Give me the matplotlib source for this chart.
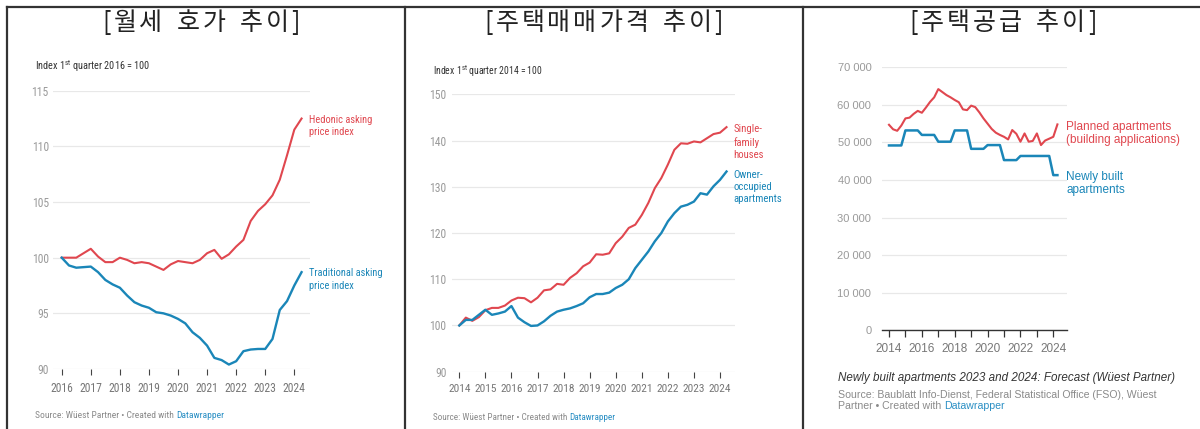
import numpy as np
import matplotlib
matplotlib.use('Agg')
import matplotlib.pyplot as plt
from matplotlib import font_manager
from matplotlib.ticker import FixedLocator

# pick a condensed face for the Datawrapper-style small text if one is installed
_fonts = font_manager.fontManager.ttflist
_names = {f.name for f in _fonts}
NARROW = None
NARROW_STRETCH = 'normal'
for cand in ['Liberation Sans Narrow', 'Roboto Condensed', 'Open Sans Condensed', 'Noto Sans Condensed']:
    if cand in _names:
        NARROW = cand
        break
if NARROW is None:
    for fam in ['Roboto', 'Noto Sans', 'Open Sans', 'DejaVu Sans', 'Inter']:
        if any(f.name == fam and f.stretch in ('condensed', 'semi-condensed', 'extra-condensed')
               for f in _fonts):
            NARROW = fam
            NARROW_STRETCH = 'condensed'
            break
if NARROW is None:
    NARROW = 'Liberation Sans'

plt.rcParams['font.family'] = [NARROW, 'Liberation Sans', 'DejaVu Sans']
plt.rcParams['font.stretch'] = NARROW_STRETCH
plt.rcParams['mathtext.fontset'] = 'custom'
plt.rcParams['mathtext.rm'] = NARROW

# ---- data ----
titles = ['[월세 호가 추이]', '[주택매매가격 추이]', '[주택공급 추이]']

# panel 1: asking rents, quarterly from 2016 Q1
rent_start = 2016
hedonic = [100.0, 100.0, 100.0, 100.4, 100.8, 100.1, 99.6, 99.6,
           100.0, 99.8, 99.5, 99.6, 99.5, 99.2, 98.9, 99.4,
           99.7, 99.6, 99.5, 99.8, 100.4, 100.7, 99.9, 100.3,
           101.0, 101.6, 103.3, 104.2, 104.8, 105.6, 107.0, 109.2,
           111.5, 112.5]
traditional = [100.0, 99.3, 99.1, 99.15, 99.2, 98.7, 98.0, 97.6,
               97.3, 96.6, 96.0, 95.7, 95.5, 95.1, 95.0, 94.8,
               94.5, 94.1, 93.3, 92.8, 92.1, 91.0, 90.8, 90.4,
               90.7, 91.6, 91.75, 91.8, 91.8, 92.7, 95.3, 96.1,
               97.5, 98.7]
rent_years = list(range(2016, 2025))
rent_yticks = [90, 95, 100, 105, 110, 115]

# panel 2: transaction prices, quarterly from 2014 Q1
price_start = 2014
single_family = [100.0, 101.7, 101.0, 101.8, 103.3, 103.8, 103.8, 104.3,
                 105.4, 106.0, 105.9, 105.0, 106.0, 107.6, 107.8, 109.0,
                 108.8, 110.3, 111.3, 112.8, 113.6, 115.4, 115.3, 115.6,
                 117.8, 119.2, 121.1, 121.8, 123.9, 126.5, 129.7, 131.9,
                 134.8, 138.0, 139.4, 139.3, 139.8, 139.6, 140.5, 141.4,
                 141.7, 142.9]
owner_occupied = [100.0, 101.2, 101.2, 102.3, 103.4, 102.3, 102.6, 103.0,
                  104.2, 101.7, 100.7, 99.9, 100.0, 100.9, 102.1, 103.0,
                  103.4, 103.7, 104.2, 104.8, 106.1, 106.8, 106.8, 107.1,
                  108.1, 108.8, 110.0, 112.4, 114.2, 116.0, 118.2, 120.0,
                  122.5, 124.3, 125.7, 126.1, 126.8, 128.6, 128.3, 130.1,
                  131.5, 133.3]
price_years = list(range(2014, 2025))
price_yticks = [90, 100, 110, 120, 130, 140, 150]

# panel 3: housing supply, quarterly from 2014 Q1
supply_start = 2014
planned = [54700, 53500, 53100, 54500, 56400, 56600, 57600, 58400,
           57900, 59300, 60800, 62000, 64200, 63400, 62600, 62000,
           61300, 60700, 58800, 58600, 59800, 59400, 58000, 56400,
           55000, 53600, 52600, 52000, 51500, 50800, 53300, 52300,
           50200, 52400, 50200, 50400, 52400, 49300, 50500, 51000,
           51500, 54800]
newly_built = [49200, 49200, 49200, 49200, 53200, 53200, 53200, 53200,
               52000, 52000, 52000, 52000, 50200, 50200, 50200, 50200,
               53200, 53200, 53200, 53200, 48300, 48300, 48300, 48300,
               49300, 49300, 49300, 49300, 45300, 45300, 45300, 45300,
               46400, 46400, 46400, 46400, 46400, 46400, 46400, 46400,
               41300, 41300]
supply_years = list(range(2014, 2025))
supply_label_years = [2014, 2016, 2018, 2020, 2022, 2024]
supply_yticks = [0, 10000, 20000, 30000, 40000, 50000, 60000, 70000]
supply_ylabels = ['0', '10 000', '20 000', '30 000', '40 000', '50 000', '60 000', '70 000']

RED = '#e0474f'
BLUE = '#1a86b8'
GRID = '#e8e8e8'
W, H = 1200, 429
# condensed face allows slightly bigger text for the same width
SZ = 1.12 if NARROW != 'Liberation Sans' else 1.0

fig = plt.figure(figsize=(12, 4.29), dpi=100)


def px_axes(x0, x1, ytop, ybot):
    return fig.add_axes([x0 / W, 1 - ybot / H, (x1 - x0) / W, (ybot - ytop) / H])


def quarters(start, n):
    return start + np.arange(n) / 4.0


def base_style(ax, yticks, ylab_size, ypad):
    for s in ax.spines.values():
        s.set_visible(False)
    ax.set_yticks(yticks)
    ax.yaxis.grid(True, color=GRID, lw=0.9)
    ax.set_axisbelow(True)
    ax.tick_params(axis='y', length=0, pad=ypad, labelsize=ylab_size, labelcolor='#9a9a9a')


def end_label(ax, x, y, text, color, dx, dy, size, ls=1.1, **kw):
    ax.annotate(text, xy=(x, y), xytext=(dx, dy), textcoords='offset pixels',
                ha='left', va='top', color=color, fontsize=size,
                linespacing=ls, annotation_clip=False, **kw)


def source_line(x, y, prefix, size=6, **kw):
    t = fig.text(x / W, 1 - y / H, prefix, color='#8a8a8a', fontsize=size, va='center', ha='left', **kw)
    fig.add_artist(plt.Annotation('Datawrapper', xy=(1, 0.5), xycoords=t, va='center', ha='left',
                                  color='#2a8fc4', fontsize=size, annotation_clip=False, **kw))


def spaced_title(cx, cy, s, size, gap):
    # place characters one by one so the title gets a bit of letter spacing
    r = fig.canvas.get_renderer()
    kw = dict(fontsize=size, ha='left', va='center', color='#222222',
              family=['Noto Sans CJK KR', 'DejaVu Sans'], weight='light', stretch='normal')
    parts, widths = [], []
    for ch in s:
        if ch == ' ':
            parts.append(None)
            widths.append(size * 0.45)
            continue
        t = fig.text(0, 1 - cy / H, ch, **kw)
        parts.append(t)
        widths.append(t.get_window_extent(r).width)
    total = sum(widths) + gap * (len(s) - 1)
    x = cx - total / 2
    for t, w in zip(parts, widths):
        if t is not None:
            t.set_x(x / W)
        x += w + gap


# ---- panel 1 ----
ax1 = px_axes(53, 310, 90.7, 369)
t1 = quarters(rent_start, len(hedonic))
ax1.plot(t1, hedonic, color=RED, lw=1.5, clip_on=False)
ax1.plot(t1, traditional, color=BLUE, lw=1.7, clip_on=False)
ax1.set_xlim(2015.70, 2024.54)
ax1.set_ylim(90, 115)
base_style(ax1, rent_yticks, 7.5 * SZ, 3)
ax1.set_xticks(rent_years)
ax1.tick_params(axis='x', length=4, width=0.8, color='#444444', pad=5,
                labelsize=7.5 * SZ, labelcolor='#777777')
end_label(ax1, t1[-1], hedonic[-1], 'Hedonic asking\nprice index', RED, 7, 4, 6.7 * SZ, ls=1.3)
end_label(ax1, t1[-1], traditional[-1], 'Traditional asking\nprice index', BLUE, 7, 4, 6.7 * SZ, ls=1.3)
fig.text(35 / W, 1 - 66 / H, r'Index 1$^{\mathrm{st}}$ quarter 2016 = 100', fontsize=6.6 * SZ,
         color='#333333', va='center', ha='left')
source_line(35, 416, 'Source: Wüest Partner • Created with ', 6.1 * SZ)

# ---- panel 2 ----
ax2 = px_axes(452, 735, 94.3, 371.7)
t2 = quarters(price_start, len(single_family))
ax2.plot(t2, single_family, color=RED, lw=1.5, clip_on=False)
ax2.plot(t2, owner_occupied, color=BLUE, lw=1.7, clip_on=False)
ax2.set_xlim(2013.72, 2024.575)
ax2.set_ylim(90, 150)
base_style(ax2, price_yticks, 7.5 * SZ, 4)
ax2.set_xticks(price_years)
ax2.tick_params(axis='x', length=4, width=0.8, color='#444444', pad=5,
                labelsize=7.3 * SZ, labelcolor='#777777')
end_label(ax2, t2[-1], single_family[-1], 'Single-\nfamily\nhouses', RED, 7, 3, 6.9 * SZ, ls=1.3)
end_label(ax2, t2[-1], owner_occupied[-1], 'Owner-\noccupied\napartments', BLUE, 7, 2, 6.9 * SZ, ls=1.3)
fig.text(433 / W, 1 - 71 / H, r'Index 1$^{\mathrm{st}}$ quarter 2014 = 100', fontsize=6.3 * SZ,
         color='#333333', va='center', ha='left')
source_line(433, 418, 'Source: Wüest Partner • Created with ', 5.9 * SZ)

# ---- panel 3 (regular width Arial-like text) ----
reg = dict(family='Liberation Sans', stretch='normal')
ax3 = px_axes(881.7, 1066.7, 67.3, 330.3)
t3 = quarters(supply_start, len(planned))
ax3.plot(t3, planned, color=RED, lw=1.5, clip_on=False)
ax3.plot(t3, newly_built, color=BLUE, lw=1.8, clip_on=False)
ax3.set_xlim(2013.556, 2024.815)
ax3.set_ylim(0, 70000)
base_style(ax3, supply_yticks, 8, 7.5)
ax3.set_yticklabels(supply_ylabels, **reg)
ax3.spines['bottom'].set_visible(True)
ax3.spines['bottom'].set_color('#333333')
ax3.spines['bottom'].set_linewidth(1.0)
ax3.set_xticks(supply_label_years)
ax3.set_xticklabels([str(y) for y in supply_label_years], **reg)
ax3.xaxis.set_minor_locator(FixedLocator(supply_years))
ax3.tick_params(axis='x', which='both', length=5, width=0.9, color='#333333', pad=4,
                labelsize=8.5, labelcolor='#777777')
end_label(ax3, t3[-1], planned[-1], 'Planned apartments\n(building applications)', RED, 9, 3, 8.5, **reg)
end_label(ax3, t3[-1], newly_built[-1], 'Newly built\napartments', BLUE, 9, 4, 8.5, **reg)
fig.text(838 / W, 1 - 378 / H, 'Newly built apartments 2023 and 2024: Forecast (Wüest Partner)',
         fontsize=8.4, style='italic', color='#333333', va='center', ha='left', **reg)
fig.text(838 / W, 1 - 395 / H, 'Source: Baublatt Info-Dienst, Federal Statistical Office (FSO), Wüest',
         fontsize=7.6, color='#8a8a8a', va='center', ha='left', **reg)
source_line(838, 406, 'Partner • Created with ', 7.6, **reg)

# ---- table frame and titles ----
frame = dict(color='#333333', lw=1.6, transform=fig.transFigure, clip_on=False)
fig.add_artist(plt.Line2D([6.5 / W, 1], [1 - 6.5 / H, 1 - 6.5 / H], **frame))
for xv in [6.5, 404.5, 802.5]:
    fig.add_artist(plt.Line2D([xv / W, xv / W], [0, 1 - 6.5 / H], **frame))

for cx, title in zip([201, 603.5, 1003], titles):
    spaced_title(cx, 23, title, 18, 3)

fig.savefig('out.png', dpi=100)
